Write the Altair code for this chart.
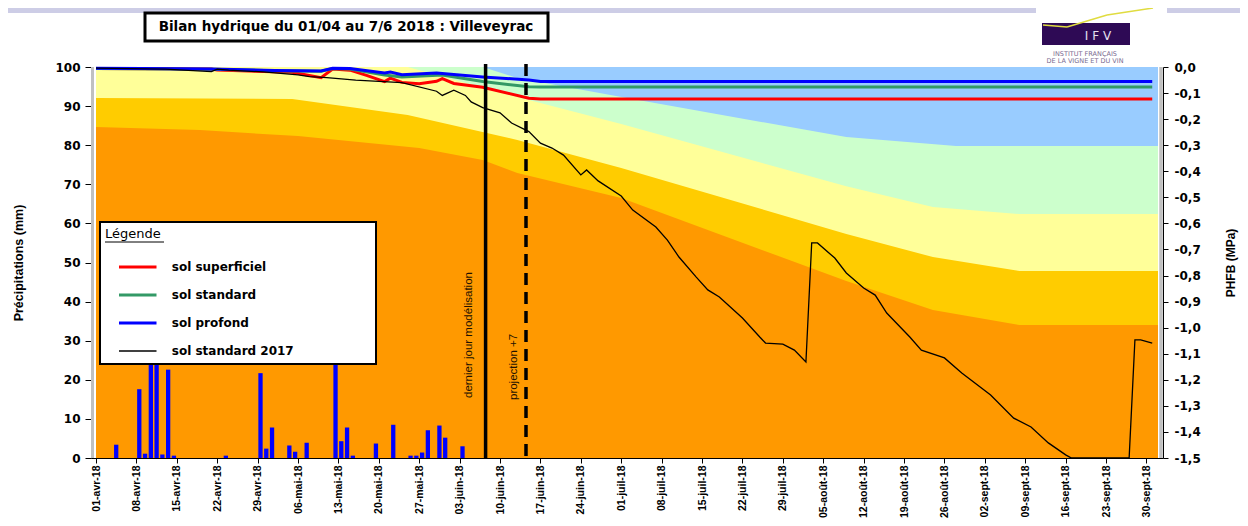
import json
import altair as alt
import pandas as pd

# ---------------- data ----------------
month_abbr = ["janv", "févr", "mars", "avr", "mai", "juin",
              "juil", "août", "sept", "oct", "nov", "déc"]
tick_dates = ["2018-04-01", "2018-04-08", "2018-04-15", "2018-04-22", "2018-04-29",
              "2018-05-06", "2018-05-13", "2018-05-20", "2018-05-27", "2018-06-03",
              "2018-06-10", "2018-06-17", "2018-06-24", "2018-07-01", "2018-07-08",
              "2018-07-15", "2018-07-22", "2018-07-29", "2018-08-05", "2018-08-12",
              "2018-08-19", "2018-08-26", "2018-09-02", "2018-09-09", "2018-09-16",
              "2018-09-23", "2018-09-30"]
x_domain = ["2018-04-01", "2018-10-02"]

# background classes (upper boundary, PHFB MPa)
blue_dates = ["2018-04-01", "2018-10-02"]
blue_top = [0.0, 0.0]
green_dates = ["2018-04-01", "2018-06-07", "2018-06-13", "2018-07-02", "2018-08-09",
               "2018-08-28", "2018-10-02"]
green_top = [0.0, 0.0, -0.042, -0.119, -0.269, -0.303, -0.303]
yellow_dates = ["2018-04-01", "2018-05-25", "2018-06-13", "2018-07-01", "2018-08-09",
                "2018-08-24", "2018-09-08", "2018-10-02"]
yellow_top = [0.0, 0.0, -0.115, -0.219, -0.457, -0.537, -0.564, -0.564]
gold_dates = ["2018-04-01", "2018-05-05", "2018-05-25", "2018-06-13", "2018-07-01",
              "2018-08-09", "2018-08-24", "2018-09-08", "2018-10-02"]
gold_top = [-0.119, -0.123, -0.184, -0.280, -0.387, -0.641, -0.729, -0.783, -0.783]
orange_dates = ["2018-04-01", "2018-04-19", "2018-05-06", "2018-05-27", "2018-06-07",
                "2018-06-13", "2018-07-01", "2018-08-09", "2018-08-24", "2018-09-08",
                "2018-10-02"]
orange_top = [-0.230, -0.242, -0.265, -0.311, -0.357, -0.407, -0.503, -0.821, -0.932,
              -0.990, -0.990]
band_colors = ["#99CCFF", "#CCFFCC", "#FFFF99", "#FFCC00", "#FF9900"]

# precipitation (mm)
rain_dates = ["2018-04-04", "2018-04-08", "2018-04-09", "2018-04-10", "2018-04-11",
              "2018-04-12", "2018-04-13", "2018-04-14", "2018-04-23", "2018-04-29",
              "2018-04-30", "2018-05-01", "2018-05-04", "2018-05-05", "2018-05-07",
              "2018-05-12", "2018-05-13", "2018-05-14", "2018-05-15", "2018-05-19",
              "2018-05-22", "2018-05-25", "2018-05-26", "2018-05-27", "2018-05-28",
              "2018-05-30", "2018-05-31", "2018-06-03"]
rain_mm = [3.4, 17.6, 1.1, 26.0, 28.0, 0.9, 22.6, 0.6, 0.6, 21.7,
           2.4, 7.8, 3.2, 1.6, 3.9, 26.5, 4.3, 7.8, 0.6, 3.7,
           8.5, 0.6, 0.6, 1.4, 7.1, 8.3, 5.2, 3.0]

# PHFB lines (MPa)
series_names = ["sol superficiel", "sol standard", "sol profond", "sol standard 2017"]
series_colors = ["#FF0000", "#339966", "#0000FF", "#000000"]
thin_series = "sol standard 2017"

red_dates = ["2018-04-01", "2018-04-21", "2018-04-22", "2018-05-05", "2018-05-10",
             "2018-05-12", "2018-05-15", "2018-05-18", "2018-05-21", "2018-05-22",
             "2018-05-24", "2018-05-27", "2018-05-30", "2018-05-31", "2018-06-02",
             "2018-06-07", "2018-06-15", "2018-06-17", "2018-10-01"]
red_vals = [-0.006, -0.008, -0.012, -0.020, -0.041, -0.008, -0.012, -0.033, -0.056,
            -0.043, -0.059, -0.064, -0.055, -0.045, -0.063, -0.078, -0.120, -0.123,
            -0.123]
green_line_dates = ["2018-04-01", "2018-04-21", "2018-05-02", "2018-05-10", "2018-05-12",
                    "2018-05-15", "2018-05-21", "2018-05-24", "2018-05-31", "2018-06-07",
                    "2018-06-15", "2018-06-17", "2018-10-01"]
green_line_vals = [-0.006, -0.009, -0.014, -0.016, -0.006, -0.008, -0.031, -0.038,
                   -0.031, -0.056, -0.076, -0.077, -0.077]
blue_line_dates = ["2018-04-01", "2018-04-09", "2018-04-21", "2018-05-02", "2018-05-10",
                   "2018-05-12", "2018-05-15", "2018-05-21", "2018-05-22", "2018-05-24",
                   "2018-05-30", "2018-06-07", "2018-06-15", "2018-06-17", "2018-10-01"]
blue_line_vals = [-0.005, -0.006, -0.008, -0.013, -0.015, -0.005, -0.006, -0.023,
                  -0.019, -0.030, -0.023, -0.038, -0.050, -0.056, -0.056]
black_dates = ["2018-04-01", "2018-04-13", "2018-04-21", "2018-04-22", "2018-04-24",
               "2018-04-30", "2018-05-06", "2018-05-08", "2018-05-11", "2018-05-16",
               "2018-05-24", "2018-05-30", "2018-05-31", "2018-06-02", "2018-06-04",
               "2018-06-05", "2018-06-07", "2018-06-10", "2018-06-12", "2018-06-15",
               "2018-06-17", "2018-06-19", "2018-06-21", "2018-06-24", "2018-06-25",
               "2018-06-27", "2018-07-01", "2018-07-03", "2018-07-07", "2018-07-09",
               "2018-07-11", "2018-07-14", "2018-07-16", "2018-07-18", "2018-07-22",
               "2018-07-25", "2018-07-26", "2018-07-29", "2018-07-31", "2018-08-02",
               "2018-08-03", "2018-08-04", "2018-08-07", "2018-08-09", "2018-08-12",
               "2018-08-14", "2018-08-16", "2018-08-20", "2018-08-22", "2018-08-26",
               "2018-08-29", "2018-09-03", "2018-09-07", "2018-09-10", "2018-09-13",
               "2018-09-16", "2018-09-17", "2018-09-27", "2018-09-28", "2018-09-29",
               "2018-10-01"]
black_vals = [-0.004, -0.008, -0.018, -0.008, -0.012, -0.019, -0.030, -0.037, -0.041,
              -0.050, -0.060, -0.093, -0.109, -0.089, -0.109, -0.134, -0.156, -0.176,
              -0.215, -0.248, -0.292, -0.311, -0.338, -0.414, -0.395, -0.437, -0.495,
              -0.549, -0.614, -0.664, -0.729, -0.806, -0.855, -0.882, -0.963, -1.036,
              -1.059, -1.063, -1.086, -1.132, -0.675, -0.675, -0.733, -0.790, -0.848,
              -0.875, -0.944, -1.036, -1.086, -1.116, -1.174, -1.258, -1.347, -1.381,
              -1.442, -1.488, -1.500, -1.500, -1.047, -1.047, -1.059]

marker_dates = ["2018-06-07T12:00:00", "2018-06-14T12:00:00"]
marker_labels = ["dernier jour modélisation", "projection +7"]

title_text = "Bilan hydrique du 01/04 au 7/6 2018 : Villeveyrac"
left_title = "Précipitations (mm)"
right_title = "PHFB (MPa)"

# ---------------- chart ----------------
W, H = 1072, 391
LIB = "Liberation Sans, Arial, sans-serif"
WIDE = "DejaVu Sans, Liberation Sans, sans-serif"


def dt(s):
    y, m, d = s[:10].split("-")
    return alt.DateTime(year=int(y), month=int(m), date=int(d))


label_expr = ("timeFormat(datum.value, '%d') + '-' + "
              + json.dumps(month_abbr, ensure_ascii=False)
              + "[month(datum.value)] + '-' + timeFormat(datum.value, '%y')")

x_axis = alt.Axis(values=[dt(s) for s in tick_dates], labelExpr=label_expr,
                  labelAngle=270, labelFont=LIB, labelFontSize=10.5,
                  labelFontWeight="bold", labelColor="black", labelPadding=2,
                  labelOverlap=False, labelFlush=False, tickSize=5,
                  tickColor="black", domainColor="black", grid=False, title=None)
x_scale = alt.Scale(domain=[dt(s) for s in x_domain])
X = alt.X("date:T", scale=x_scale, axis=x_axis)

phfb_scale = alt.Scale(domain=[-1.5, 0], nice=False, zero=False)
mm_scale = alt.Scale(domain=[0, 100], nice=False)

right_vals = [round(-k * 0.1, 1) + 0.0 for k in range(16)]
right_axis = alt.Axis(orient="right", values=right_vals,
                      labelExpr="replace(replace(format(datum.value, '.1f'), '\u2212', '-'), '.', ',')",
                      labelFont=WIDE, labelFontSize=12, labelFontWeight="bold",
                      labelColor="black", labelPadding=6, tickSize=5, tickColor="black",
                      domainColor="black", grid=False, title=right_title,
                      titleFont=LIB, titleFontSize=12, titleFontWeight="bold",
                      titleColor="black", titleAngle=270, titleX=67, titleY=H / 2,
                      titleAlign="center", titleBaseline="middle")
left_axis = alt.Axis(orient="left", values=list(range(0, 101, 10)),
                     labelFont=WIDE, labelFontSize=12, labelFontWeight="bold",
                     labelColor="black", labelPadding=5, tickSize=6, tickColor="black",
                     domainColor="black", grid=False, title=left_title,
                     titleFont=LIB, titleFontSize=12.5, titleFontWeight="bold",
                     titleColor="black", titleAngle=270, titleX=-73, titleY=H / 2,
                     titleAlign="center", titleBaseline="middle")


def band(dates, vals, color, axis=None):
    df = pd.DataFrame({"date": pd.to_datetime(dates), "phfb": vals})
    return alt.Chart(df).mark_area(color=color, opacity=1, interpolate="linear").encode(
        x=X, y=alt.Y("phfb:Q", scale=phfb_scale, axis=axis), y2=alt.datum(-1.5))


bands = [
    band(blue_dates, blue_top, band_colors[0], right_axis),
    band(green_dates, green_top, band_colors[1]),
    band(yellow_dates, yellow_top, band_colors[2]),
    band(gold_dates, gold_top, band_colors[3]),
    band(orange_dates, orange_top, band_colors[4]),
]

rain_df = pd.DataFrame({"date": pd.to_datetime(rain_dates) + pd.Timedelta(hours=12),
                        "mm": rain_mm})
bars = alt.Chart(rain_df).mark_bar(color="#0000FF", size=4.3).encode(
    x=X, y=alt.Y("mm:Q", scale=mm_scale, axis=left_axis))

line_df = pd.concat([
    pd.DataFrame({"date": pd.to_datetime(d), "phfb": v, "series": n})
    for d, v, n in [(red_dates, red_vals, series_names[0]),
                    (green_line_dates, green_line_vals, series_names[1]),
                    (blue_line_dates, blue_line_vals, series_names[2]),
                    (black_dates, black_vals, series_names[3])]
], ignore_index=True)

width_expr = f"datum.series === '{thin_series}' ? 1.3 : 3"
leg = alt.Legend(orient="none", legendX=40.75, legendY=194, title=None,
                 symbolType="M-2.5,0H2.5", symbolSize=225, labelOffset=28,
                 rowPadding=16, padding=0, labelFont=WIDE, labelFontSize=12,
                 labelFontWeight="bold", labelColor="black",
                 symbolStrokeWidth=alt.ExprRef(
                     expr=f"datum.value === '{thin_series}' ? 1.5 : 3"))
lines = alt.Chart(line_df).transform_calculate(w=width_expr).mark_line(
    interpolate="linear").encode(
    x=X, y=alt.Y("phfb:Q", scale=phfb_scale, axis=None),
    color=alt.Color("series:N", scale=alt.Scale(domain=series_names, range=series_colors),
                    legend=leg),
    strokeWidth=alt.StrokeWidth("w:Q", scale=None, legend=None))

marker_df = pd.DataFrame({"date": pd.to_datetime(marker_dates), "label": marker_labels})
rule_solid = alt.Chart(marker_df.iloc[[0]]).mark_rule(color="black", strokeWidth=3.5).encode(
    x=X, y=alt.value(-3), y2=alt.value(H))
rule_dash = alt.Chart(marker_df.iloc[[1]]).mark_rule(
    color="black", strokeWidth=3.5, strokeDash=[12, 7]).encode(
    x=X, y=alt.value(-3), y2=alt.value(H))
txt_solid = alt.Chart(marker_df.iloc[[0]]).mark_text(
    angle=270, align="left", baseline="middle", dy=-17, font=LIB, fontSize=11.5,
    color="#221100").encode(x=X, y=alt.value(331), text="label:N")
txt_dash = alt.Chart(marker_df.iloc[[1]]).mark_text(
    angle=270, align="left", baseline="middle", dy=-12, font=LIB, fontSize=11.5,
    color="#221100").encode(x=X, y=alt.value(333), text="label:N")

one = pd.DataFrame({"t": [title_text]})


def box(x, x2, y, y2, fill, stroke=None, sw=0):
    kw = dict(fill=fill, strokeWidth=sw)
    if stroke:
        kw["stroke"] = stroke
    return alt.Chart(one).mark_rect(**kw).encode(
        x=alt.value(x), x2=alt.value(x2), y=alt.value(y), y2=alt.value(y2))


def seg(x, y, x2, y2, color, sw):
    return alt.Chart(one).mark_rule(color=color, strokeWidth=sw).encode(
        x=alt.value(x), y=alt.value(y), x2=alt.value(x2), y2=alt.value(y2))


def label(x, y, text, size, font=WIDE, weight="normal", color="black", align="left"):
    return alt.Chart(one).mark_text(text=text, font=font, fontSize=size, fontWeight=weight,
                                    color=color, align=align, baseline="middle").encode(
        x=alt.value(x), y=alt.value(y))


deco = [
    seg(1.5, 0, 1.5, H, "#C0C0C0", 3),
    seg(W - 2, 0, W - 2, H, "#C0C0C0", 3.5),
    box(9, 285, 155, 297, "white", "black", 2),
    label(14, 167, "Légende", 13),
    seg(14, 175, 73, 175, "black", 1),
    box(-83, W + 77, -59, -54, "#CDCDE6"),
    box(54, 457, -54, -26, "white", "black", 3),
    label(255, -40, title_text, 13.5, weight="bold", align="center"),
    box(945, 1076, -61, -1, "white"),
    box(951, 1039, -44, -22, "#2E0A55"),
    label(1007, -31, "I  F  V", 12, color="#E6E0F0", align="center"),
    seg(952, -42, 976, -40, "#E0DC40", 1.5),
    seg(976, -40, 1016, -52, "#E0DC40", 1.5),
    seg(1016, -52, 1062, -59, "#E0DC40", 1.5),
    label(994, -13, "INSTITUT FRANÇAIS", 6.5, color="#7A6A90", align="center"),
    label(994, -6, "DE LA VIGNE ET DU VIN", 6.5, color="#7A6A90", align="center"),
]

chart = alt.layer(*bands, bars, lines, rule_solid, rule_dash, txt_solid, txt_dash,
                  *deco).resolve_scale(y="independent").properties(
    width=W, height=H,
    autosize=alt.AutoSizeParams(type="none"),
    padding={"left": 83, "top": 59, "right": 77, "bottom": 60},
    background="white",
).configure_view(stroke=None)

chart.save("out.html", embed_options={"renderer": "svg", "actions": False})
